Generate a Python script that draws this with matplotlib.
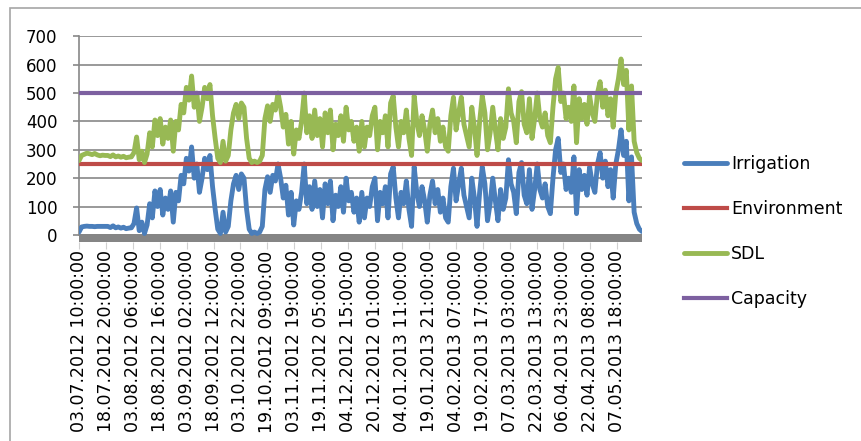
import numpy as np
import matplotlib
matplotlib.use("Agg")
import matplotlib.pyplot as plt
from matplotlib.patches import Rectangle

# values, one sample every 36 hours starting 03.07.2012 10:00
irrigation = [
    10, 28, 30, 31, 30, 30, 29, 30, 30, 30,
    30, 30, 26, 32, 25, 28, 24, 27, 22, 24,
    25, 40, 95, 15, 45, 5, 35, 110, 60, 155,
    100, 160, 70, 130, 90, 155, 45, 150, 120, 210,
    180, 270, 225, 310, 200, 250, 150, 200, 270, 230,
    280, 170, 90, 20, 5, 80, 10, 30, 120, 180,
    210, 160, 215, 200, 90, 20, 5, 10, 5, 10,
    30, 160, 205, 150, 210, 190, 250, 200, 130, 175,
    70, 150, 35, 120, 90, 150, 250, 110, 170, 90,
    190, 100, 160, 60, 180, 110, 190, 50, 140, 100,
    170, 80, 200, 120, 150, 80, 130, 45, 150, 60,
    130, 100, 170, 200, 50, 150, 110, 170, 60, 215,
    240, 130, 60, 150, 110, 190, 90, 30, 240, 150,
    100, 170, 120, 45, 140, 190, 110, 160, 80, 130,
    60, 45, 170, 235, 120, 180, 235, 140, 100, 60,
    200, 130, 30, 150, 240, 180, 50, 110, 200, 120,
    50, 160, 90, 130, 265, 180, 150, 75, 220, 255,
    140, 110, 230, 90, 160, 250, 160, 130, 180, 100,
    75, 200, 300, 340, 220, 250, 160, 200, 150, 275,
    75, 230, 160, 210, 140, 240, 180, 150, 250, 290,
    200, 260, 170, 230, 130, 250, 300, 370, 280, 330,
    120, 275, 80, 40, 20, 12,
]
sdl = [
    262, 280, 284, 288, 286, 283, 287, 282, 279, 281,
    280, 280, 276, 282, 275, 278, 274, 277, 272, 274,
    275, 290, 345, 265, 295, 255, 285, 360, 310, 405,
    350, 410, 320, 380, 340, 405, 295, 400, 370, 460,
    430, 520, 475, 560, 450, 500, 400, 450, 520, 480,
    530, 420, 340, 270, 255, 330, 260, 280, 370, 430,
    460, 410, 465, 450, 340, 270, 255, 260, 255, 260,
    280, 410, 455, 400, 460, 440, 500, 450, 380, 425,
    320, 400, 285, 370, 340, 400, 500, 360, 420, 340,
    440, 350, 410, 310, 430, 360, 440, 300, 390, 350,
    420, 330, 450, 370, 400, 330, 380, 295, 400, 310,
    380, 350, 420, 450, 300, 400, 360, 420, 310, 465,
    490, 380, 310, 400, 360, 440, 340, 280, 490, 400,
    350, 420, 370, 295, 390, 440, 360, 410, 330, 380,
    310, 295, 420, 485, 370, 430, 485, 390, 350, 310,
    450, 380, 280, 400, 490, 430, 300, 360, 450, 370,
    300, 410, 340, 380, 515, 430, 400, 325, 470, 505,
    390, 360, 480, 340, 410, 500, 410, 380, 430, 350,
    325, 450, 550, 590, 470, 500, 410, 450, 400, 525,
    325, 480, 410, 460, 390, 490, 430, 400, 500, 540,
    450, 510, 420, 480, 380, 500, 550, 620, 530, 580,
    370, 525, 330, 290, 270, 262,
]
environment = 250
capacity = 500

tick_labels = [
    "03.07.2012 10:00:00", "18.07.2012 20:00:00", "03.08.2012 06:00:00",
    "18.08.2012 16:00:00", "03.09.2012 02:00:00", "18.09.2012 12:00:00",
    "03.10.2012 22:00:00", "19.10.2012 09:00:00", "03.11.2012 19:00:00",
    "19.11.2012 05:00:00", "04.12.2012 15:00:00", "20.12.2012 01:00:00",
    "04.01.2013 11:00:00", "19.01.2013 21:00:00", "04.02.2013 07:00:00",
    "19.02.2013 17:00:00", "07.03.2013 03:00:00", "22.03.2013 13:00:00",
    "06.04.2013 23:00:00", "22.04.2013 08:00:00", "07.05.2013 18:00:00",
]
hours = np.arange(len(irrigation)) * 36       # sample time in hours
tick_hours = np.arange(len(tick_labels)) * 370  # label every 370 hourly points

W, H = 862, 441
fig = plt.figure(figsize=(W / 100, H / 100), dpi=100)
ax = fig.add_axes([79 / W, 1 - 242 / H, 563 / W, 205.7 / H])

# outer chart frame (only left/top visible in the crop)
fig.patches.append(Rectangle((10 / W, -0.2), 1.5, 1.2 - 8 / H, transform=fig.transFigure,
                             fill=False, edgecolor="#a6a6a6", lw=1.2))

grid_c = "#878787"
ax.set_xlim(0, hours[-1])
ax.set_ylim(-25, 700)
ax.set_yticks(range(0, 701, 100))
for v in range(100, 701, 100):
    ax.axhline(v, color=grid_c, lw=1.2, zorder=1)
ax.axhspan(-25, 3.5, color="#858585", lw=0, zorder=1)

ax.plot(hours, irrigation, color="#4a7ebb", lw=3.5, solid_joinstyle="round",
        solid_capstyle="round", label="Irrigation", zorder=3)
ax.axhline(environment, color="#be4b48", lw=3, label="Environment", zorder=4)
ax.plot(hours, sdl, color="#98b954", lw=3.5, solid_joinstyle="round",
        solid_capstyle="round", label="SDL", zorder=5)
ax.axhline(capacity, color="#7d60a0", lw=3, label="Capacity", zorder=6)

for s in ["top", "right", "bottom"]:
    ax.spines[s].set_visible(False)
ax.spines["left"].set_color(grid_c)
ax.spines["left"].set_linewidth(1.2)
ax.spines["left"].set_bounds(0, 700)

ax.set_xticks(tick_hours)
ax.set_xticklabels(tick_labels, rotation=90, fontsize=12.5)
ax.tick_params(axis="x", length=5, color="#d0d0d0", pad=1)
ax.tick_params(axis="y", length=4.5, color=grid_c, width=1.2, pad=11, labelsize=12)

fig.legend(loc="upper left", bbox_to_anchor=(677 / W, 1 - 148 / H), frameon=False,
           fontsize=12.5, handlelength=2.5, handletextpad=0.2, labelspacing=1.55,
           borderaxespad=0)

fig.savefig("out.png", dpi=100)
